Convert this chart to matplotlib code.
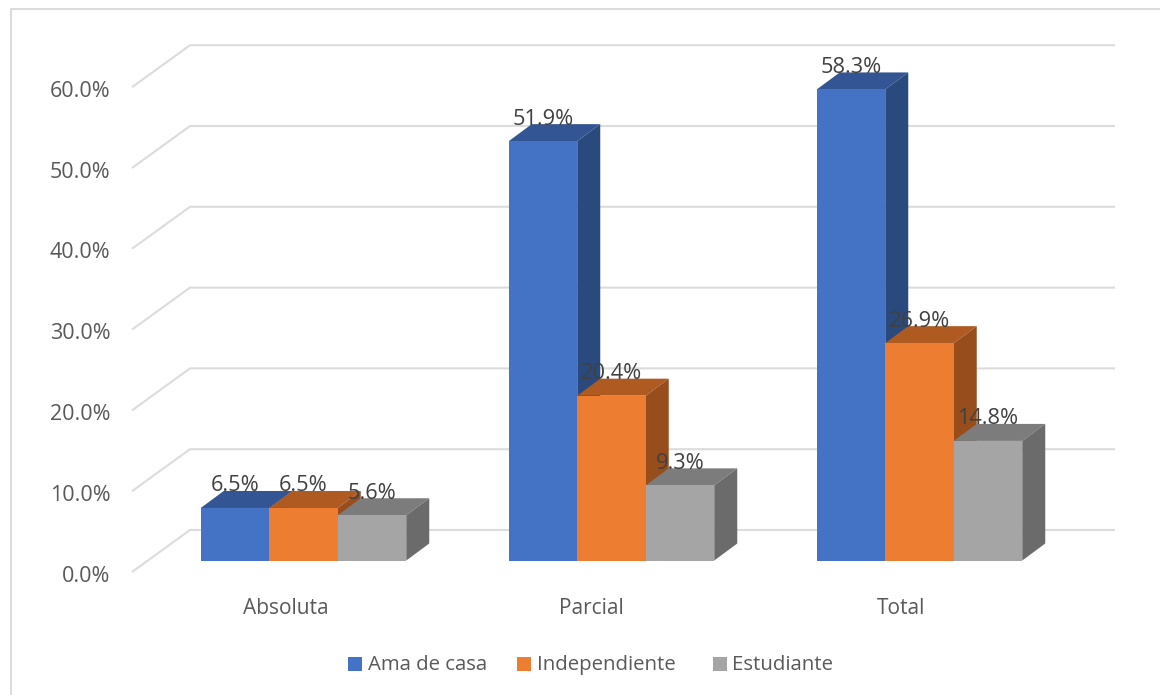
import matplotlib
matplotlib.use('Agg')
import matplotlib.pyplot as plt
from matplotlib.patches import Polygon, Rectangle
from matplotlib.lines import Line2D

categories = ['Absoluta', 'Parcial', 'Total']
series_names = ['Ama de casa', 'Independiente', 'Estudiante']
ama = [6.5, 51.9, 58.3]
independiente = [6.5, 20.4, 26.9]
estudiante = [5.6, 9.3, 14.8]
y_ticks = [0, 10, 20, 30, 40, 50, 60]

front_colors = ['#4472C4', '#ED7D31', '#A5A5A5']
top_colors = ['#335593', '#AE5A21', '#7C7C7C']
side_colors = ['#2A4A7D', '#984E1C', '#6B6B6B']
grid_color = '#DCDCDC'

plt.rcParams['font.family'] = ['Open Sans', 'DejaVu Sans']

W, H = 1160, 695
fig = plt.figure(figsize=(W / 100, H / 100), dpi=100)
ax = fig.add_axes([0, 0, 1, 1])

# scale: one category = 308 px, 1 percent = 8.08 px, first group centre at x=303.5, base at y=560.5
px_x = 308.0
px_y = 8.08
base = 560.5
ax.set_xlim(-303.5 / px_x, (W - 303.5) / px_x)
ax.set_ylim(-(H - base) / px_y, base / px_y)
ax.axis('off')


def dx(p):
    # x pixel to category units
    return (p - 303.5) / px_x


def dy(p):
    # y pixel to percent
    return (base - p) / px_y


# walls
for t in y_ticks:
    y0 = t + dy(572)
    y1 = t + dy(530)
    ax.plot([dx(132), dx(190), dx(1115)], [y0, y1, y1], color=grid_color, lw=1.5, zorder=1,
            solid_capstyle='butt')
    ax.text(dx(110.5), t + dy(576), '%.1f%%' % t, ha='right', va='center', fontsize=15.5, color='#595959')

# bars
bar_w = 68.5 / px_x
depth_x = 23 / px_x
depth_y = 17 / px_y
all_series = [ama, independiente, estudiante]
z = 2
for i in range(len(categories)):
    for j, vals in enumerate(all_series):
        v = vals[i]
        left = i + (j - 1.5) * bar_w
        right = left + bar_w
        ax.add_patch(Polygon([(left, v), (right, v), (right + depth_x, v + depth_y), (left + depth_x, v + depth_y)],
                             facecolor=top_colors[j], edgecolor='none', zorder=z))
        ax.add_patch(Polygon([(right, 0), (right + depth_x, depth_y), (right + depth_x, v + depth_y), (right, v)],
                             facecolor=side_colors[j], edgecolor='none', zorder=z))
        ax.bar(left, v, width=bar_w, align='edge', color=front_colors[j], zorder=z + 0.5)
        ax.text(left + bar_w / 2, v + 22 / px_y, '%.1f%%' % v, ha='center', va='center',
                fontsize=15.7, color='#404040', zorder=50)
        z += 1

# category labels
cat_x = [286, 591, 901]
for name, px in zip(categories, cat_x):
    ax.text(dx(px), dy(608), name, ha='center', va='center', fontsize=15, color='#595959')

# legend, placed by hand because the gaps between the entries differ
legend_square_x = [348, 517, 713]
legend_text_x = [368, 537, 732]
for n, c, sx, tx in zip(series_names, front_colors, legend_square_x, legend_text_x):
    fig.add_artist(Rectangle((sx / W, 1 - 671 / H), 14 / W, 14 / H, transform=fig.transFigure,
                             facecolor=c, edgecolor='none'))
    ax.text(dx(tx), dy(665), n, ha='left', va='center', fontsize=14.7, color='#595959')

# chart frame, only left and top visible
fig.add_artist(Line2D([10.5 / W, 10.5 / W, 1], [0, 1 - 8.5 / H, 1 - 8.5 / H], color=grid_color, lw=1.5))

fig.savefig('out.png', dpi=100)
